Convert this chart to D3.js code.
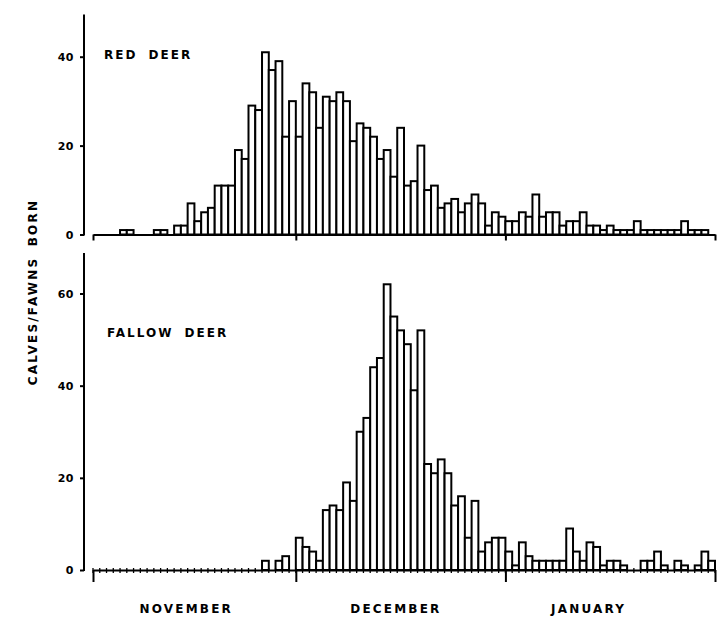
<!DOCTYPE html>
<html>
<head>
<meta charset="utf-8">
<script src="https://cdn.jsdelivr.net/npm/d3@7"></script>
<style>
  html, body { margin: 0; padding: 0; background: #fff; }
  svg text { font-family: "DejaVu Sans", sans-serif; font-weight: bold; fill: #000; }
</style>
</head>
<body>
<svg id="chart" width="718" height="619"></svg>
<script>
// ---- data (one value per day, 1 Nov .. 31 Jan) ----
const months = ["NOVEMBER", "DECEMBER", "JANUARY"];
const monthDays = [30, 31, 31];
const monthLabelDay = [13.8, 44.8, 73.3];

const redDeer = [
  0, 0, 0, 0, 1, 1, 0, 0, 0, 1, 1, 0, 2, 2, 7, 3, 5, 6, 11, 11,
  11, 19, 17, 29, 28, 41, 37, 39, 22, 30,
  22, 34, 32, 24, 31, 30, 32, 30, 21, 25, 24, 22, 17, 19, 13, 24, 11, 12, 20, 10,
  11, 6, 7, 8, 5, 7, 9, 7, 2, 5, 4,
  3, 3, 5, 4, 9, 4, 5, 5, 2, 3, 3, 5, 2, 2, 1, 2, 1, 1, 1, 3,
  1, 1, 1, 1, 1, 1, 3, 1, 1, 1, 0
];
const fallowDeer = [
  0, 0, 0, 0, 0, 0, 0, 0, 0, 0, 0, 0, 0, 0, 0, 0, 0, 0, 0, 0,
  0, 0, 0, 0, 0, 2, 0, 2, 3, 0,
  7, 5, 4, 2, 13, 14, 13, 19, 15, 30, 33, 44, 46, 62, 55, 52, 49, 39, 52, 23,
  21, 24, 21, 14, 16, 7, 15, 4, 6, 7, 7,
  4, 1, 6, 3, 2, 2, 2, 2, 2, 9, 4, 2, 6, 5, 1, 2, 2, 1, 0, 0,
  2, 2, 4, 1, 0, 2, 1, 0, 1, 4, 2
];
const redTicks = [0, 20, 40];
const fallowTicks = [0, 20, 40, 60];
const panelNames = ["RED DEER", "FALLOW DEER"];
const yLabel = "CALVES/FAWNS BORN";

// ---- layout ----
const svg = d3.select("#chart");
const nDays = d3.sum(monthDays);
const x = d3.scaleLinear().domain([0, nDays]).range([93, 715]);
const axisX = 84;

const monthStarts = [0];
monthDays.forEach((d, i) => monthStarts.push(monthStarts[i] + d));

const panels = [
  { data: redDeer, ticks: redTicks, name: panelNames[0],
    y: d3.scaleLinear().domain([0, 40]).range([234.5, 56.7]), top: 49.5,
    monthTick: 6, nameY: 59, nameX: 104, dayTicks: false },
  { data: fallowDeer, ticks: fallowTicks, name: panelNames[1],
    y: d3.scaleLinear().domain([0, 60]).range([570, 293.5]), top: 68.8,
    monthTick: 12, nameY: 337, nameX: 107, dayTicks: true }
];

panels.forEach(p => {
  const g = svg.append("g");
  const y0 = p.y(0);

  // bars
  g.selectAll("rect.bar")
    .data(p.data.map((v, i) => ({ v, i })).filter(d => d.v > 0))
    .enter().append("rect")
    .attr("class", "bar")
    .attr("x", d => x(d.i))
    .attr("width", d => x(d.i + 1) - x(d.i))
    .attr("y", d => p.y(d.v))
    .attr("height", d => y0 - p.y(d.v))
    .attr("fill", "#fff")
    .attr("stroke", "#000")
    .attr("stroke-width", 2);

  // small day marks on baseline
  if (p.dayTicks) {
    g.selectAll("line.day")
      .data(d3.range(nDays + 1))
      .enter().append("line")
      .attr("x1", d => x(d)).attr("x2", d => x(d))
      .attr("y1", y0 - 2).attr("y2", y0 + 3)
      .attr("stroke", "#000").attr("stroke-width", 1.3);
  }

  // x axis (baseline with month boundary ticks)
  const xa = d3.axisBottom(x)
    .tickValues(monthStarts)
    .tickFormat("")
    .tickSize(p.monthTick)
    .tickSizeOuter(0);
  const gx = g.append("g").attr("transform", `translate(0,${y0})`).call(xa);
  gx.select(".domain").attr("stroke", "#000").attr("stroke-width", 2);
  gx.selectAll(".tick line").attr("stroke", "#000").attr("stroke-width", 2);

  // y axis
  const ya = d3.axisLeft(p.y)
    .tickValues(p.ticks)
    .tickSize(4)
    .tickPadding(6)
    .tickSizeOuter(0);
  const gy = g.append("g").attr("transform", `translate(${axisX},0)`).call(ya);
  gy.select(".domain").remove();
  gy.append("line")
    .attr("x1", 0).attr("x2", 0)
    .attr("y1", y0 + 1).attr("y2", p.y(p.top))
    .attr("stroke", "#000").attr("stroke-width", 2);
  gy.selectAll(".tick line").attr("stroke", "#000").attr("stroke-width", 2);
  gy.selectAll(".tick text")
    .attr("font-size", 11)
    .attr("font-family", "DejaVu Sans, sans-serif")
    .attr("font-weight", "bold")
    .attr("letter-spacing", "0.5px")
    .attr("fill", "#000");

  // panel name
  g.append("text")
    .attr("x", p.nameX).attr("y", p.nameY)
    .attr("font-size", 12)
    .attr("letter-spacing", "2px")
    .attr("word-spacing", "5px")
    .text(p.name);
});

// month labels
svg.selectAll("text.month")
  .data(months)
  .enter().append("text")
  .attr("class", "month")
  .attr("x", (d, i) => x(monthLabelDay[i]))
  .attr("y", 613)
  .attr("text-anchor", "middle")
  .attr("font-size", 12)
  .attr("letter-spacing", "2.2px")
  .text(d => d);

// y axis title
svg.append("text")
  .attr("transform", "translate(37,292) rotate(-90)")
  .attr("text-anchor", "middle")
  .attr("font-size", 12)
  .attr("letter-spacing", "2.2px")
  .attr("word-spacing", "4px")
  .text(yLabel);
</script>
</body>
</html>
